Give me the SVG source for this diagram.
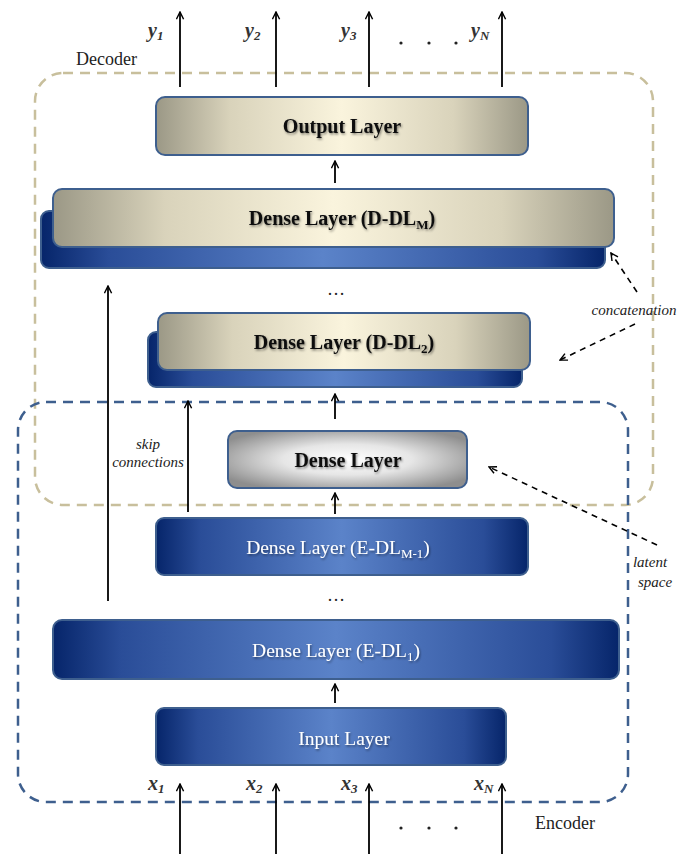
<svg xmlns="http://www.w3.org/2000/svg" width="683" height="854" viewBox="0 0 683 854">
<defs>
<linearGradient id="blue" x1="0" y1="0" x2="1" y2="0">
<stop offset="0" stop-color="#06256a"/>
<stop offset="0.12" stop-color="#2a4d98"/>
<stop offset="0.5" stop-color="#5b83c9"/>
<stop offset="0.88" stop-color="#2a4d98"/>
<stop offset="1" stop-color="#06256a"/>
</linearGradient>
<linearGradient id="cream" x1="0" y1="0" x2="1" y2="0">
<stop offset="0" stop-color="#9b9886"/>
<stop offset="0.2" stop-color="#d9d3bb"/>
<stop offset="0.5" stop-color="#faf4dd"/>
<stop offset="0.8" stop-color="#d9d3bb"/>
<stop offset="1" stop-color="#9b9886"/>
</linearGradient>
<radialGradient id="grey" cx="0.5" cy="0.5" r="0.6">
<stop offset="0" stop-color="#ffffff"/>
<stop offset="0.45" stop-color="#e6e6e6"/>
<stop offset="1" stop-color="#8e8e8e"/>
</radialGradient>
<filter id="sh" x="-10%" y="-30%" width="120%" height="160%">
<feDropShadow dx="1" dy="1.5" stdDeviation="1" flood-color="#000" flood-opacity="0.45"/>
</filter>
<marker id="ah" viewBox="0 0 10 10" refX="9" refY="5" markerWidth="9" markerHeight="9" markerUnits="userSpaceOnUse" orient="auto">
<path d="M1,1 L9,5 L1,9" fill="none" stroke="#000" stroke-width="1.6"/>
</marker>
<style>
.box{stroke:#3e5f8e;stroke-width:2}
.dl{font-family:"Liberation Serif",serif;font-size:20px;font-weight:bold;fill:#111;text-anchor:middle}
.el{font-family:"Liberation Serif",serif;font-size:19.5px;fill:#fff;text-anchor:middle}
.lbl{font-family:"Liberation Serif",serif;font-size:18px;fill:#222}
.it{font-family:"Liberation Serif",serif;font-size:15px;font-style:italic;fill:#222;text-anchor:middle}
.var{font-family:"Liberation Serif",serif;font-size:20px;font-style:italic;font-weight:bold;fill:#333}
.ln{stroke:#000;stroke-width:1.8;fill:none;marker-end:url(#ah)}
.dash{stroke:#000;stroke-width:1.6;fill:none;stroke-dasharray:6,5;marker-end:url(#ah)}
.dots{font-family:"Liberation Serif",serif;font-size:18px;fill:#222;text-anchor:middle}
.dot{fill:#222}
</style>
</defs>
<rect width="683" height="854" fill="#fff"/>

<g id="decoder-frame">
<rect x="35" y="73" width="618" height="432" rx="28" fill="none" stroke="#c8bf9c" stroke-width="2.5" stroke-dasharray="10,7"/>
<text class="lbl" x="76" y="65">Decoder</text>
</g>
<g id="encoder-frame">
<rect x="18" y="402" width="610" height="400" rx="28" fill="none" stroke="#3e5f8e" stroke-width="2.5" stroke-dasharray="10,7"/>
<text class="lbl" x="535" y="829">Encoder</text>
</g>

<g id="output-layer">
<rect class="box" x="156" y="97" width="372" height="58" rx="9" fill="url(#cream)"/>
<text class="dl" x="342" y="133" filter="url(#sh)">Output Layer</text>
</g>

<g id="d-dl-m">
<rect class="box" x="41" y="211" width="564" height="57" rx="8" fill="url(#blue)"/>
<rect class="box" x="53" y="189" width="561" height="58" rx="9" fill="url(#cream)"/>
<text class="dl" x="342" y="225" filter="url(#sh)">Dense Layer (D-DL<tspan font-size="13" dy="4">M</tspan><tspan dy="-4">)</tspan></text>
</g>

<text class="dots" x="336" y="295">…</text>

<g id="d-dl-2">
<rect class="box" x="148" y="332" width="374" height="55" rx="8" fill="url(#blue)"/>
<rect class="box" x="158" y="313" width="372" height="57" rx="9" fill="url(#cream)"/>
<text class="dl" x="344" y="349" filter="url(#sh)">Dense Layer (D-DL<tspan font-size="13" dy="4">2</tspan><tspan dy="-4">)</tspan></text>
</g>

<g id="latent-layer">
<rect class="box" x="228" y="431" width="239" height="57" rx="9" fill="url(#grey)"/>
<text class="dl" x="348" y="467" filter="url(#sh)">Dense Layer</text>
</g>

<g id="e-dl-m1">
<rect class="box" x="156" y="518" width="372" height="57" rx="8" fill="url(#blue)"/>
<text class="el" x="338" y="554" filter="url(#sh)">Dense Layer (E-DL<tspan font-size="13" dy="4">M-1</tspan><tspan dy="-4">)</tspan></text>
</g>

<text class="dots" x="336" y="601">…</text>

<g id="e-dl-1">
<rect class="box" x="53" y="620" width="566" height="59" rx="9" fill="url(#blue)"/>
<text class="el" x="336" y="657" filter="url(#sh)">Dense Layer (E-DL<tspan font-size="13" dy="4">1</tspan><tspan dy="-4">)</tspan></text>
</g>

<g id="input-layer">
<rect class="box" x="156" y="708" width="350" height="57" rx="8" fill="url(#blue)"/>
<text class="el" x="344" y="745" filter="url(#sh)">Input Layer</text>
</g>

<g id="connectors">
<line class="ln" x1="180" y1="87" x2="180" y2="12"/>
<line class="ln" x1="276" y1="87" x2="276" y2="12"/>
<line class="ln" x1="369" y1="87" x2="369" y2="12"/>
<line class="ln" x1="502" y1="87" x2="502" y2="12"/>
<line class="ln" x1="180" y1="854" x2="180" y2="784"/>
<line class="ln" x1="276" y1="854" x2="276" y2="784"/>
<line class="ln" x1="369" y1="854" x2="369" y2="784"/>
<line class="ln" x1="502" y1="854" x2="502" y2="784"/>
<line class="ln" x1="335" y1="183" x2="335" y2="161"/>
<line class="ln" x1="335" y1="419" x2="335" y2="394"/>
<line class="ln" x1="335" y1="514" x2="335" y2="493"/>
<line class="ln" x1="335" y1="703" x2="335" y2="684"/>
<line class="ln" x1="108" y1="601" x2="108" y2="286"/>
<line class="ln" x1="188" y1="512" x2="188" y2="401"/>
<line class="dash" x1="657" y1="545" x2="489" y2="467"/>
<line class="dash" x1="637" y1="292" x2="611" y2="253"/>
<line class="dash" x1="635" y1="324" x2="560" y2="360"/>
</g>

<g id="labels">
<text class="var" x="148" y="37">y<tspan font-size="13" dy="3">1</tspan></text>
<text class="var" x="245" y="37">y<tspan font-size="13" dy="3">2</tspan></text>
<text class="var" x="341" y="37">y<tspan font-size="13" dy="3">3</tspan></text>
<text class="var" x="471" y="37">y<tspan font-size="13" dy="3">N</tspan></text>
<circle class="dot" cx="401" cy="43" r="1.6"/>
<circle class="dot" cx="429" cy="43" r="1.6"/>
<circle class="dot" cx="456" cy="43" r="1.6"/>
<text class="var" x="148" y="790">x<tspan font-size="13" dy="3">1</tspan></text>
<text class="var" x="246" y="790">x<tspan font-size="13" dy="3">2</tspan></text>
<text class="var" x="341" y="790">x<tspan font-size="13" dy="3">3</tspan></text>
<text class="var" x="474" y="790">x<tspan font-size="13" dy="3">N</tspan></text>
<circle class="dot" cx="401" cy="828" r="1.6"/>
<circle class="dot" cx="429" cy="828" r="1.6"/>
<circle class="dot" cx="456" cy="828" r="1.6"/>
<text class="it" font-size="14" x="148" y="449">skip</text>
<text class="it" font-size="14" x="148" y="467">connections</text>
<text class="it" x="634" y="315">concatenation</text>
<text class="it" x="650" y="567">latent</text>
<text class="it" x="655" y="587">space</text>
</g>
</svg>
